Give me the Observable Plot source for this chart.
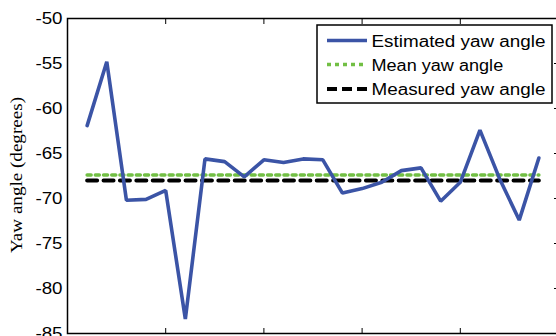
<!DOCTYPE html>
<html><head><meta charset="utf-8">
<script src="https://cdn.jsdelivr.net/npm/d3@7"></script>
<script src="https://cdn.jsdelivr.net/npm/@observablehq/plot@0.6"></script>
<style>
html,body{margin:0;padding:0;background:#fff;}
#wrap{position:relative;width:556px;height:336px;overflow:hidden;}
#legend{position:absolute;left:0;top:0;pointer-events:none;}
</style></head><body><div id="wrap"></div>
<script>
const samples = [1,2,3,4,5,6,7,8,9,10,11,12,13,14,15,16,17,18,19,20,21,22,23,24];
const estimated = [-61.9,-54.8,-70.2,-70.1,-69.1,-83.4,-65.6,-65.9,-67.6,-65.7,-66.0,-65.6,
                   -65.7,-69.4,-68.9,-68.2,-66.9,-66.6,-70.3,-68.2,-62.4,-67.8,-72.4,-65.5];
const meanYaw = -67.4;
const measuredYaw = -68.0;
const yTicks = [-85,-80,-75,-70,-65,-60,-55,-50];
const xTicks = [0,5,10,15,20,25];
const seriesNames = ["Estimated yaw angle","Mean yaw angle","Measured yaw angle"];
const yLabel = "Yaw angle (degrees)";

const blue = "#3b54a6", green = "#72bf44", black = "#000000";

const estData = samples.map((s,i)=>({x:s,y:estimated[i]}));
const first = samples[0], last = samples[samples.length-1];
const meanData = [{x:first,y:meanYaw},{x:last,y:meanYaw}];
const measData = [{x:first,y:measuredYaw},{x:last,y:measuredYaw}];

const chart = Plot.plot({
  width:556, height:336,
  marginLeft:67, marginRight:-2, marginTop:18, marginBottom:3,
  x:{domain:[0,25]},
  y:{domain:[-85,-50]},
  style:{fontFamily:"'Liberation Sans', Arial, sans-serif", fontSize:"16px", color:"#000", background:"#fff", overflow:"hidden"},
  marks:[
    Plot.axisY({ticks:yTicks, tickSize:0, tickPadding:5, tickFormat:d=>String(d), label:null, fontSize:16}),
    Plot.axisY({anchor:"right", ticks:yTicks, tickSize:-5, tickFormat:()=>"", label:null}),
    Plot.axisX({anchor:"top", ticks:xTicks, tickSize:-5, tickFormat:()=>"", label:null}),
    Plot.axisX({anchor:"bottom", ticks:xTicks, tickSize:-5, tickFormat:()=>"", label:null}),
    Plot.line(meanData, {x:"x", y:"y", stroke:green, strokeWidth:3.5, strokeDasharray:"4,4.2"}),
    Plot.line(measData, {x:"x", y:"y", stroke:black, strokeWidth:4, strokeDasharray:"10,6.4"}),
    Plot.line(estData, {x:"x", y:"y", stroke:blue, strokeWidth:3.6, strokeLinejoin:"miter"}),
    Plot.frame({stroke:"#000", strokeWidth:1.5})
  ]
});
const wrap = document.getElementById("wrap");
wrap.appendChild(chart);

// stretch tick labels horizontally to match reference
d3.select(chart).selectAll('g[aria-label="y-axis tick label"] text').each(function(){
  const w = this.getComputedTextLength();
  this.setAttribute("textLength", (w*1.17).toFixed(1));
  this.setAttribute("lengthAdjust","spacingAndGlyphs");
});

// y label
d3.select(chart).append("text")
  .attr("transform","translate(21.5,175) rotate(-90)")
  .attr("text-anchor","middle")
  .attr("font-family","'Liberation Serif','Times New Roman',serif")
  .attr("font-size",17)
  .attr("font-weight","normal")
  .attr("fill","#000")
  .attr("textLength",156)
  .attr("lengthAdjust","spacingAndGlyphs")
  .text(yLabel);

// legend overlay
const lg = d3.select(wrap).append("svg").attr("id","legend").attr("width",556).attr("height",336);
lg.append("rect").attr("x",317).attr("y",25).attr("width",235).attr("height",78)
  .attr("fill","#fff").attr("stroke","#000").attr("stroke-width",1.5);
const styles = [
  {stroke:blue, w:3.6, dash:null},
  {stroke:green, w:3.5, dash:"4,4"},
  {stroke:black, w:4, dash:"10,5"}
];
const rowY = [40.5, 64.5, 89];
const textW = [174, 131.7, 174];
seriesNames.forEach((name,i)=>{
  const l = lg.append("line").attr("x1",327).attr("x2",367).attr("y1",rowY[i]).attr("y2",rowY[i])
    .attr("stroke",styles[i].stroke).attr("stroke-width",styles[i].w);
  if (styles[i].dash) l.attr("stroke-dasharray",styles[i].dash);
  lg.append("text").attr("x",371.5).attr("y",rowY[i]+6)
    .attr("font-family","'Liberation Sans', Arial, sans-serif").attr("font-size",16)
    .attr("textLength",textW[i]).attr("lengthAdjust","spacingAndGlyphs")
    .attr("fill","#000").text(name);
});
</script></body></html>
